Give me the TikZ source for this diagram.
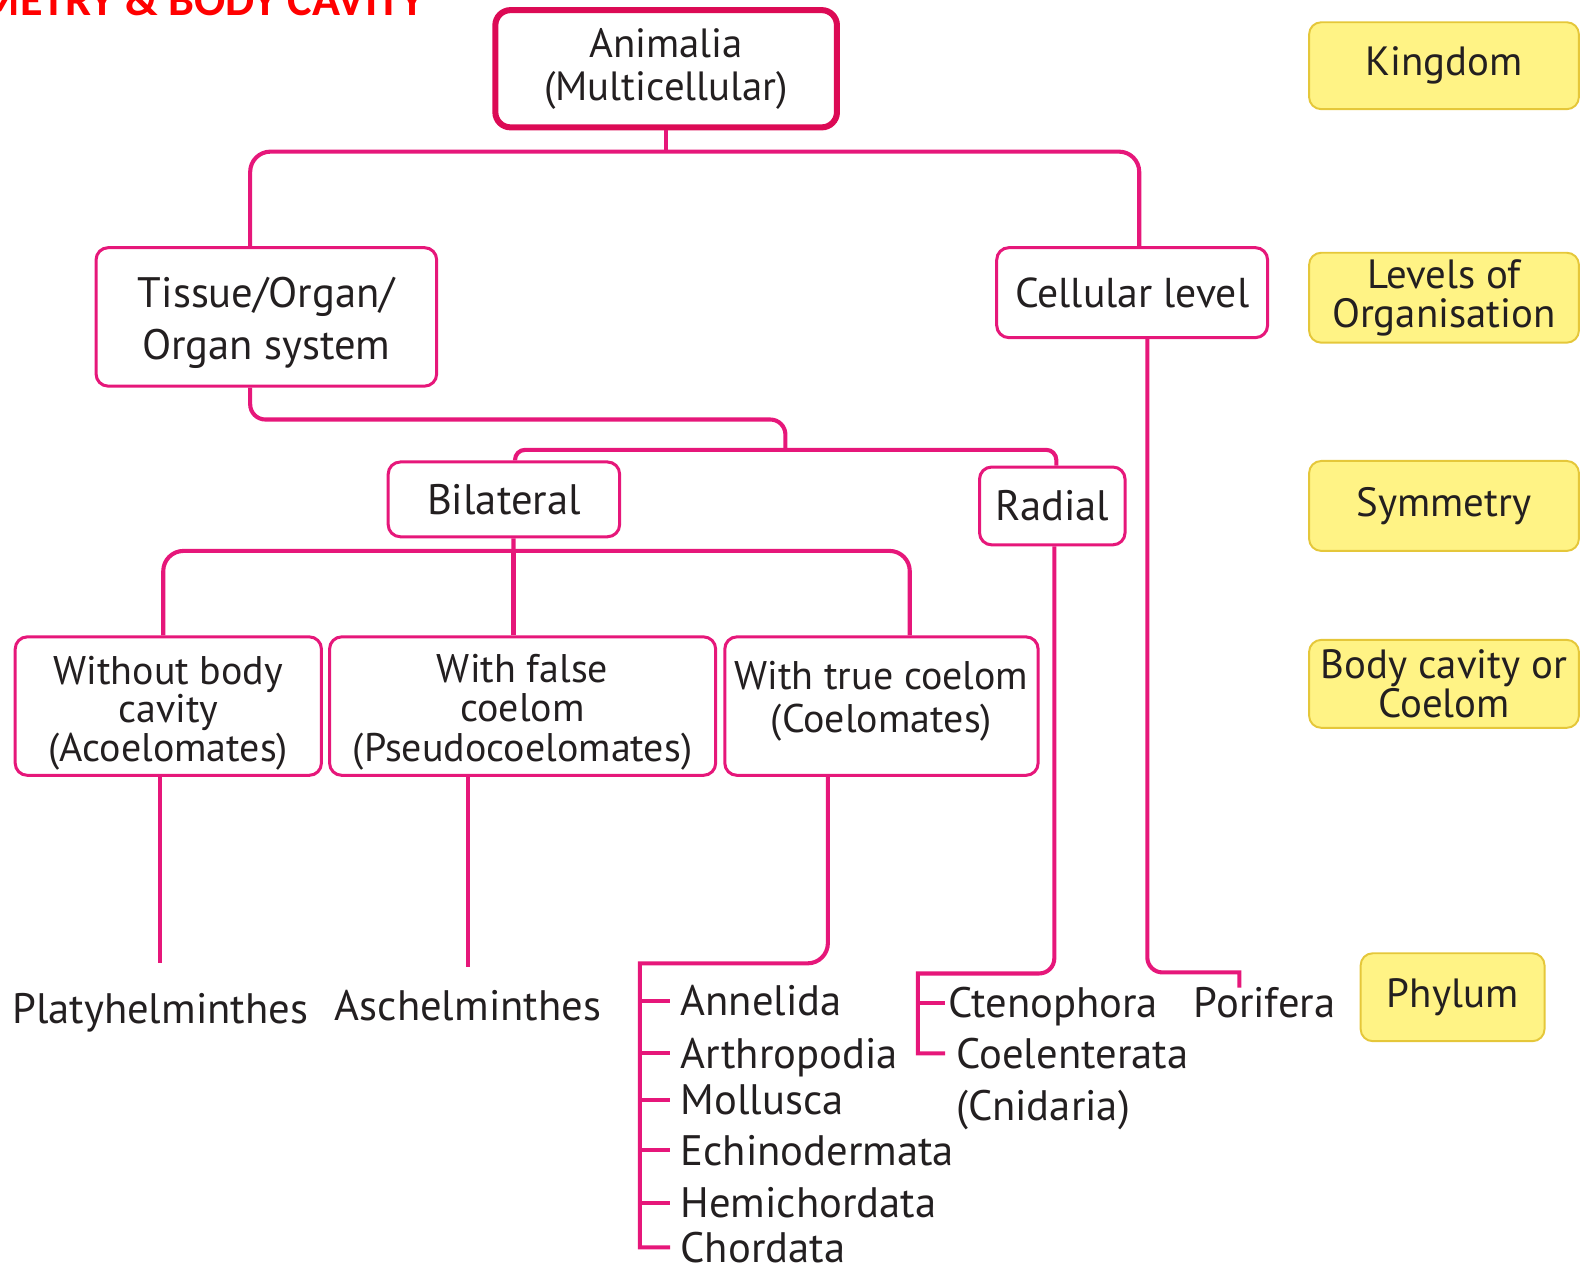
\documentclass[tikz,border=0pt]{standalone}
\usepackage{fontspec}
\setmainfont{PT Sans}
\newfontfamily\titlefont{Carlito}
\usetikzlibrary{calc}
\definecolor{lnk}{HTML}{E6177A}
\definecolor{animred}{HTML}{DC0A55}
\definecolor{rankfill}{HTML}{FFF385}
\definecolor{rankdraw}{HTML}{E5C73A}
\definecolor{ink}{HTML}{231F20}
\begin{document}
\begin{tikzpicture}[x=0.02cm,y=-0.02cm,
    link/.style={draw=lnk,line width=2.3pt,rounded corners=0.4cm},
    taxbox/.style={draw=lnk,line width=1.7pt,rounded corners=0.24cm,align=center,inner sep=0pt,text=ink},
    boxtext/.style={align=center,inner sep=0pt,text=ink},
    rankbox/.style={draw=rankdraw,fill=rankfill,line width=1.1pt,rounded corners=0.24cm,align=center,inner sep=0pt,text=ink,
        minimum width=5.34cm,minimum height=1.78cm,font=\fontsize{23}{22}\selectfont},
    taxon/.style={inner sep=0pt,text=ink,text height=16.8pt,text depth=0pt,font=\fontsize{24}{26}\selectfont},
    item/.style={taxon,anchor=west,inner xsep=0.2cm}]
    \useasboundingbox (0,0) rectangle (1568,1252);
    \node[anchor=base east,inner sep=0pt,text=red,font=\titlefont\bfseries\fontsize{26}{28}\selectfont] (title) at (420,15) {METRY \& BODY CAVITY};
    % boxes of the tree
    \node[taxbox,draw=animred,line width=3.4pt,rounded corners=0.3cm,minimum width=6.76cm,minimum height=2.32cm,font=\fontsize{23}{24}\selectfont] (anim) at (659,68) {Animalia\\(Multicellular)};
    \node[taxbox,minimum width=6.74cm,minimum height=2.74cm] (tissue) at (263.5,313.5) {};
    \node[boxtext,font=\fontsize{24}{29.6}\selectfont] (tissue-t) at ($(tissue)+(0,6)$) {Tissue/Organ/\\Organ system};
    \node[taxbox,minimum width=5.36cm,minimum height=1.78cm,font=\fontsize{23.5}{26}\selectfont] (cell) at (1120,289.5) {Cellular level};
    \node[taxbox,minimum width=4.58cm,minimum height=1.48cm,font=\fontsize{24}{26}\selectfont] (bilat) at (498.5,494) {Bilateral};
    \node[taxbox,minimum width=2.88cm,minimum height=1.54cm,font=\fontsize{24}{26}\selectfont] (radial) at (1041,500.5) {Radial};
    \node[taxbox,minimum width=6.06cm,minimum height=2.74cm] (acoel) at (166.5,698.5) {};
    \node[boxtext,font=\fontsize{22.5}{19.9}\selectfont] (acoel-t) at ($(acoel)+(0,7)$) {Without body\\cavity\\(Acoelomates)};
    \node[taxbox,minimum width=7.64cm,minimum height=2.74cm] (pseudo) at (517,698.5) {};
    \node[boxtext,font=\fontsize{22.5}{22.2}\selectfont] (pseudo-t) at ($(pseudo)+(0,6)$) {With false\\coelom\\(Pseudocoelomates)};
    \node[taxbox,minimum width=6.2cm,minimum height=2.74cm] (coelo) at (872,698.5) {};
    \node[boxtext,font=\fontsize{22.5}{24.5}\selectfont] (coelo-t) at ($(coelo)+(0,-5)$) {With true coelom\\(Coelomates)};
    % ranks
    \node[rankbox,minimum height=1.72cm] (kingdom) at (1428.5,65) {Kingdom};
    \node[rankbox] (levels) at (1428.5,294.5) {Levels of\\Organisation};
    \node[rankbox] (symmetry) at (1428.5,500.5) {Symmetry};
    \node[rankbox,minimum height=1.74cm,font=\fontsize{23}{21}\selectfont] (cavity) at (1428.5,676.5) {Body cavity or\\Coelom};
    \node[rankbox,minimum width=3.64cm,minimum height=1.74cm] (phylum) at (1437,986.5) {Phylum};
    % phyla
    \node[taxon] (platy) at (158.5,998) {Platyhelminthes};
    \node[taxon] (aschel) at (463,995) {Aschelminthes};
    \node[item] (annel) at (663,990) {Annelida};
    \node[item] (arthro) at (663,1042) {Arthropodia};
    \node[item] (mollus) at (663,1088) {Mollusca};
    \node[item] (echino) at (663,1138) {Echinodermata};
    \node[item] (hemi) at (663,1190) {Hemichordata};
    \node[item] (chord) at (663,1234) {Chordata};
    \node[item,inner xsep=0.06cm] (cteno) at (935,992) {Ctenophora};
    \node[item,inner xsep=0.22cm] (coelent) at (935,1042) {Coelenterata};
    \node[taxon,anchor=west] (cnid) at (946,1094) {(Cnidaria)};
    \node[taxon] (porif) at (1251,992) {Porifera};
    % connectors
    \coordinate (kingsplit) at (659,150);
    \coordinate (orgsplit) at (777,445);
    \coordinate (bisplit) at (508,545);
    \coordinate (cbar) at (633,953);
    \coordinate (rbar) at (908,963);
    \draw[link] (anim.south) -- (kingsplit);
    \draw[link] ($(tissue.north)+(-16,0)$) |- (kingsplit) -| ($(cell.north)+(7,0)$);
    \draw[link,rounded corners=0.3cm] ($(tissue.south)+(-16,0)$) |- (777,415) -- (orgsplit);
    \draw[link,rounded corners=0.2cm] ($(bilat.north)+(11,0)$) |- (orgsplit) -| ($(radial.north)+(4,0)$);
    \draw[link] ($(bilat.south)+(9.5,0)$) -- (bisplit);
    \draw[link] ($(acoel.north)+(-5,0)$) |- (bisplit) -| ($(coelo.north)+(28,0)$);
    \draw[link] ($(pseudo.north)+(-9,0)$) -- (bisplit);
    \draw[link] (acoel.south -| platy.north) -- ($(platy.north)+(0,-30)$);
    \draw[link] (pseudo.south -| aschel.north) -- ($(aschel.north)+(0,-23)$);
    \draw[link] ($(coelo.south)+(-53,0)$) coordinate (cdrop) -- (cdrop |- cbar) [sharp corners] -- (cbar) -- (cbar |- chord.west) -- (chord.west);
    \foreach \n in {annel,arthro,mollus,echino,hemi}
        \draw[link] (cbar |- \n.west) -- (\n.west);
    \draw[link,rounded corners=0.3cm] ($(radial.south)+(2,0)$) coordinate (rdrop) -- (rdrop |- rbar) [sharp corners] -- (rbar) -- (rbar |- coelent.west) -- (coelent.west);
    \draw[link] (rbar |- cteno.west) -- (cteno.west);
    \draw[link,rounded corners=0.3cm] ($(cell.south)+(15,0)$) coordinate (pdrop) -- (pdrop |- 0,962) [sharp corners] -- ($(porif.north)+(-25,-15)$) -- ($(porif.north)+(-25,0)$);
\end{tikzpicture}
\end{document}
